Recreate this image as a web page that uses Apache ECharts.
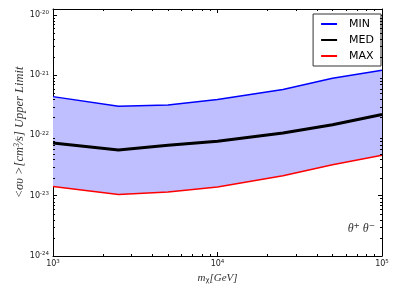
<!DOCTYPE html>
<html>
<head>
<meta charset="utf-8">
<script src="https://cdn.jsdelivr.net/npm/echarts@6/dist/echarts.min.js"></script>
<style>
html,body{margin:0;padding:0;background:#fff;}
#chart{width:399px;height:299px;}
</style>
</head>
<body>
<div id="chart"></div>
<script>
// values in cm^3/s
const masses = [1000, 2500, 5000, 10000, 25000, 50000, 100000];
const minVals = [4.4e-22, 3.05e-22, 3.2e-22, 3.95e-22, 5.8e-22, 8.9e-22, 1.21e-21];
const medVals = [7.5e-23, 5.75e-23, 6.9e-23, 8.0e-23, 1.1e-22, 1.5e-22, 2.22e-22];
const maxVals = [1.42e-23, 1.05e-23, 1.15e-23, 1.39e-23, 2.14e-23, 3.27e-23, 4.67e-23];
const seriesNames = ['MIN', 'MED', 'MAX'];
const xRange = [1e3, 1e5];
const yRange = [1e-24, 1.25e-20];
// ECharts rounds tiny numbers to 20 decimals, so the y axis works in units of 1e-24
const Y_EXP = -24;
const Y_UNIT = Math.pow(10, Y_EXP);
const toUnit = v => v / Y_UNIT;

function pair(xs, ys) { return xs.map((x, i) => [x, toUnit(ys[i])]); }
function powLabel(offset) {
  return function (v) {
    const e = Math.log10(v);
    const r = Math.round(e);
    if (Math.abs(e - r) > 1e-6) return '';
    const ex = r + offset;
    return '{b|10}{s|' + (ex < 0 ? '-' : '') + Math.abs(ex) + '}';
  };
}
const labelRich = {
  b: { fontFamily: 'DejaVu Sans', fontSize: 8, color: '#222', lineHeight: 10 },
  s: { fontFamily: 'DejaVu Sans', fontSize: 5.5, color: '#222', verticalAlign: 'top', lineHeight: 10, padding: [0, 0, 3, 0] }
};
const line = { show: true, lineStyle: { color: '#000', width: 1 } };
const majorTick = { show: true, inside: true, length: 4, lineStyle: { color: '#000', width: 1 } };
const yMin = toUnit(yRange[0]), yMax = toUnit(yRange[1]);

const chart = echarts.init(document.getElementById('chart'), null, { renderer: 'canvas' });
const option = {
  animation: false,
  backgroundColor: '#fff',
  grid: { left: 53, right: 17, top: 9, bottom: 43, containLabel: false },
  xAxis: [
    { type: 'log', logBase: 10, min: xRange[0], max: xRange[1], position: 'bottom',
      axisLine: line, axisTick: majorTick, splitLine: { show: false },
      axisLabel: { formatter: powLabel(0), rich: labelRich, margin: 3 },
      name: '{i|m}{sub|χ}{i|[GeV]}', nameLocation: 'middle', nameGap: 16,
      nameTextStyle: { rich: {
        i: { fontFamily: 'Liberation Serif', fontStyle: 'italic', fontSize: 11, color: '#333' },
        sub: { fontFamily: 'DejaVu Sans', fontSize: 7, color: '#333', verticalAlign: 'bottom', padding: [3, 0, 0, 0] }
      } } },
    { type: 'log', logBase: 10, min: xRange[0], max: xRange[1], position: 'top',
      axisLine: line, axisTick: majorTick, splitLine: { show: false }, axisLabel: { show: false } }
  ],
  yAxis: [
    { type: 'log', logBase: 10, min: yMin, max: yMax, position: 'left',
      axisLine: line, axisTick: majorTick, splitLine: { show: false },
      axisLabel: { formatter: powLabel(Y_EXP), rich: labelRich, margin: 4 },
      name: '{i|<συ >[cm}{sup|3}{i|⁄s] Upper Limit}', nameLocation: 'middle', nameGap: 27, nameRotate: 90,
      nameMoveOverlap: false,
      nameTextStyle: { rich: {
        i: { fontFamily: 'Liberation Serif', fontStyle: 'italic', fontSize: 12.5, color: '#333' },
        sup: { fontFamily: 'Liberation Serif', fontStyle: 'italic', fontSize: 8, color: '#333', verticalAlign: 'top', padding: [0, 0, 5, 0] }
      } } },
    { type: 'log', logBase: 10, min: yMin, max: yMax, position: 'right',
      axisLine: line, axisTick: majorTick, splitLine: { show: false }, axisLabel: { show: false } }
  ],
  legend: {
    data: seriesNames,
    orient: 'vertical', right: 18, top: 14, align: 'left',
    itemWidth: 16, itemHeight: 10, itemGap: 4,
    padding: [4, 7, 4, 7],
    itemStyle: { opacity: 0 },
    borderColor: '#333', borderWidth: 1, borderRadius: 0, backgroundColor: '#fff',
    textStyle: { fontFamily: 'DejaVu Sans', fontSize: 11, color: '#000', lineHeight: 12, padding: [0, 0, 0, 7] }
  },
  title: {
    text: '{t|θ}{p|+}{t| θ}{p|−}',
    right: 19, top: 217,
    textStyle: { fontWeight: 'normal', rich: {
      t: { fontFamily: 'Liberation Serif', fontStyle: 'italic', fontWeight: 'normal', fontSize: 12, color: '#333' },
      p: { fontFamily: 'DejaVu Sans', fontWeight: 'normal', fontSize: 7.5, color: '#333', verticalAlign: 'top', padding: [0, 0, 5, 0] }
    } }
  },
  series: [
    { type: 'custom', name: 'band', silent: true, z: 1,
      data: [[masses[0], toUnit(minVals[0])]],
      renderItem: function (params, api) {
        const pts = [];
        for (let i = 0; i < masses.length; i++) pts.push(api.coord([masses[i], toUnit(minVals[i])]));
        for (let i = masses.length - 1; i >= 0; i--) pts.push(api.coord([masses[i], toUnit(maxVals[i])]));
        return { type: 'polygon', shape: { points: pts }, style: { fill: '#bfbfff', stroke: null } };
      } },
    { type: 'line', name: 'MIN', data: pair(masses, minVals), symbol: 'none', z: 3,
      lineStyle: { color: '#0000ff', width: 1.5 }, itemStyle: { color: '#0000ff' } },
    { type: 'line', name: 'MED', data: pair(masses, medVals), symbol: 'none', z: 4,
      lineStyle: { color: '#000000', width: 3 }, itemStyle: { color: '#000000' } },
    { type: 'line', name: 'MAX', data: pair(masses, maxVals), symbol: 'none', z: 3,
      lineStyle: { color: '#ff0000', width: 1.5 }, itemStyle: { color: '#ff0000' } }
  ]
};
chart.setOption(option);

// minor ticks at 2..9 times each decade, placed through the axes' own scales
const g = [];
const tickStyle = { stroke: '#000', lineWidth: 1 };
const xL = chart.convertToPixel({ xAxisIndex: 0 }, xRange[0]);
const xR = chart.convertToPixel({ xAxisIndex: 0 }, xRange[1]);
const yB = chart.convertToPixel({ yAxisIndex: 0 }, yMin);
const yT = chart.convertToPixel({ yAxisIndex: 0 }, yMax);
for (let d = 3; d < 5; d++) {
  for (let k = 2; k <= 9; k++) {
    const px = Math.round(chart.convertToPixel({ xAxisIndex: 0 }, k * Math.pow(10, d))) + 0.5;
    g.push({ type: 'line', shape: { x1: px, y1: yB, x2: px, y2: yB - 2 }, style: tickStyle, silent: true, z: 10 });
    g.push({ type: 'line', shape: { x1: px, y1: yT, x2: px, y2: yT + 2 }, style: tickStyle, silent: true, z: 10 });
  }
}
for (let d = 0; d <= 4; d++) {
  for (let k = 2; k <= 9; k++) {
    const v = k * Math.pow(10, d);
    if (v > yMax) continue;
    const py = Math.round(chart.convertToPixel({ yAxisIndex: 0 }, v)) + 0.5;
    g.push({ type: 'line', shape: { x1: xL, y1: py, x2: xL + 2, y2: py }, style: tickStyle, silent: true, z: 10 });
    g.push({ type: 'line', shape: { x1: xR, y1: py, x2: xR - 2, y2: py }, style: tickStyle, silent: true, z: 10 });
  }
}
chart.setOption({ graphic: g });
</script>
</body>
</html>
